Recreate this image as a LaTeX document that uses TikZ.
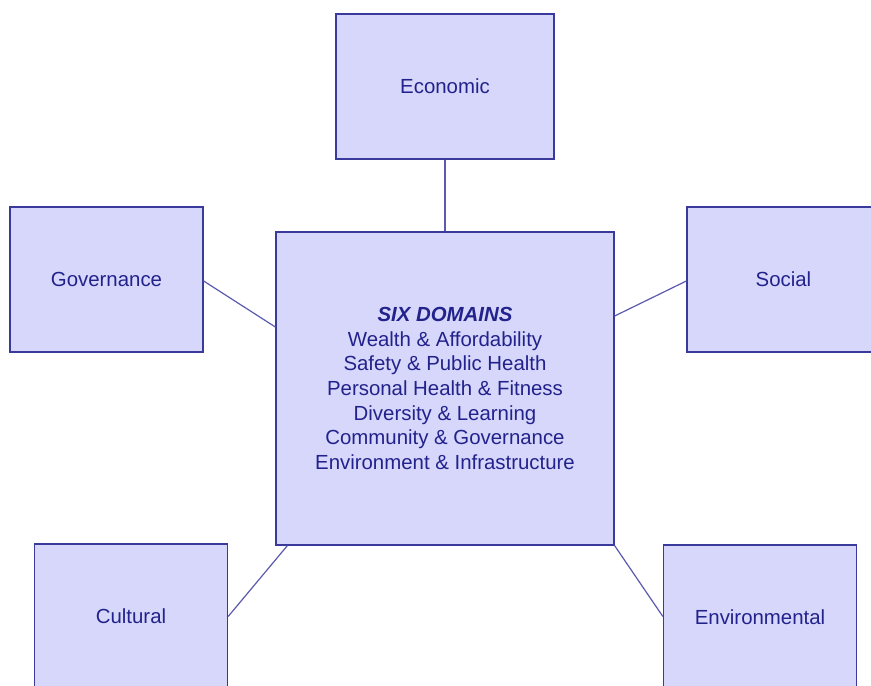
\documentclass[tikz,border=0pt]{standalone}
\usepackage{fontspec}
\setmainfont{Liberation Sans}
\usetikzlibrary{calc}
\definecolor{boxfill}{HTML}{D7D7FB}
\definecolor{boxline}{HTML}{3A3A9C}
\definecolor{linkline}{HTML}{5A5AAE}
\definecolor{labeltext}{HTML}{22228C}
\begin{document}
\begin{tikzpicture}[x=1pt,y=-1pt,
  domainbox/.style={draw=boxline,fill=boxfill,line width=1.3pt,
    minimum width=193pt,minimum height=145pt,inner sep=0pt,
    text=labeltext,font=\fontsize{20.4}{24.6}\selectfont},
  link/.style={draw=linkline,line width=1.2pt}]
\useasboundingbox (0,0) rectangle (871,686);
\clip (0,0) rectangle (871,686);
\fill[white] (0,0) rectangle (871,686);

\node[domainbox,minimum width=338pt,minimum height=313pt,align=center] (hub) at (445,388.5)
  {\textbf{\textit{SIX DOMAINS}}\\Wealth \& Affordability\\Safety \& Public Health\\
   Personal Health \& Fitness\\Diversity \& Learning\\Community \& Governance\\
   Environment \& Infrastructure};

\node[domainbox,minimum width=218pt] (eco) at (445,86.5) {Economic};
\node[domainbox] (gov) at (106.5,279.5) {Governance};
\node[domainbox] (soc) at (783.5,279.5) {Social};
\node[domainbox] (cul) at (131,616.5) {Cultural};
\node[domainbox] (env) at (760,617.5) {Environmental};

\draw[link] (eco.south) -- (hub.north);
\draw[link] ($(gov.east)+(0,1.5)$) -- ($(hub.west)+(0,-61.5)$);
\draw[link] ($(soc.west)+(0,1.5)$) -- ($(hub.east)+(0,-72.5)$);
\draw[link] (cul.east) -- ($(hub.south west)+(12,0)$);
\draw[link] ($(env.west)+(0,-1)$) -- (hub.south east);
\end{tikzpicture}
\end{document}
